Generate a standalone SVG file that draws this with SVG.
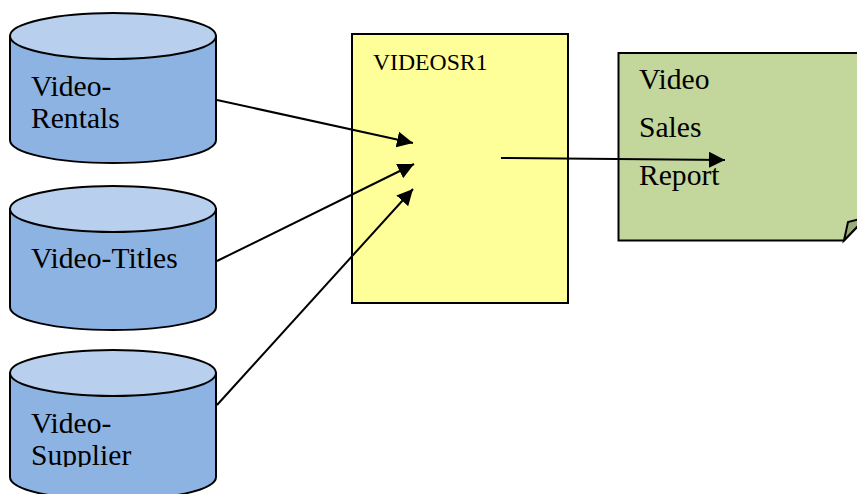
<svg xmlns="http://www.w3.org/2000/svg" width="857" height="494" viewBox="0 0 857 494">
<style>
text{font-family:"Liberation Serif","Times New Roman",serif;font-size:29.600px;fill:#000}
.body{fill:#8db3e2;stroke:#000;stroke-width:2}
.top{fill:#b8d0ee;stroke:#000;stroke-width:2}
.c{fill:none;stroke:#000;stroke-width:2}
</style>
<defs>
<marker id="a" markerUnits="userSpaceOnUse" markerWidth="18" markerHeight="18" refX="16" refY="9" orient="auto"><path d="M0 1L16 9L0 17Z" fill="#000"/></marker>
<clipPath id="cl"><rect x="0" y="0" width="857" height="467"/></clipPath>
</defs>
<rect width="857" height="494" fill="#fff"/>
<g id="video-rentals">
<path class="body" d="M10 36V140C10 153 56 163 113 163S216 153 216 140V36Z"/>
<ellipse class="top" cx="113" cy="36" rx="103" ry="23"/>
<text x="31" y="96">Video-</text><text x="31" y="128">Rentals</text>
</g>
<g id="video-titles">
<path class="body" d="M10 209V307C10 320 56 330 113 330S216 320 216 307V209Z"/>
<ellipse class="top" cx="113" cy="209" rx="103" ry="23"/>
<text x="31" y="268">Video-Titles</text>
</g>
<g id="video-supplier">
<path class="body" d="M10 373V477C10 490 56 500 113 500S216 490 216 477V373Z"/>
<ellipse class="top" cx="113" cy="373" rx="103" ry="23"/>
<text x="31" y="433">Video-</text><text x="31" y="465" clip-path="url(#cl)">Supplier</text>
</g>
<g id="videosr1">
<rect x="352" y="34" width="216" height="269" fill="#ffff99" stroke="#000" stroke-width="2"/>
<text x="373" y="70" style="font-size:23.700px">VIDEOSR1</text>
</g>
<g id="video-sales-report">
<path d="M618.500 53H858V226L844 240.500H618.500Z" fill="#c3d69b" stroke="#000" stroke-width="2"/>
<path d="M844 240.500L848 222L858 219.500V226Z" fill="#9cab7c" stroke="#000" stroke-width="2"/>
<text x="639" y="89">Video</text><text x="639" y="137">Sales</text><text x="639" y="185">Report</text>
</g>
<g id="connectors">
<path class="c" marker-end="url(#a)" d="M217 100L413 143"/>
<path class="c" marker-end="url(#a)" d="M217 261L414 164"/>
<path class="c" marker-end="url(#a)" d="M217 405L413 189"/>
<path class="c" marker-end="url(#a)" d="M501 158L725 160"/>
</g>
</svg>
